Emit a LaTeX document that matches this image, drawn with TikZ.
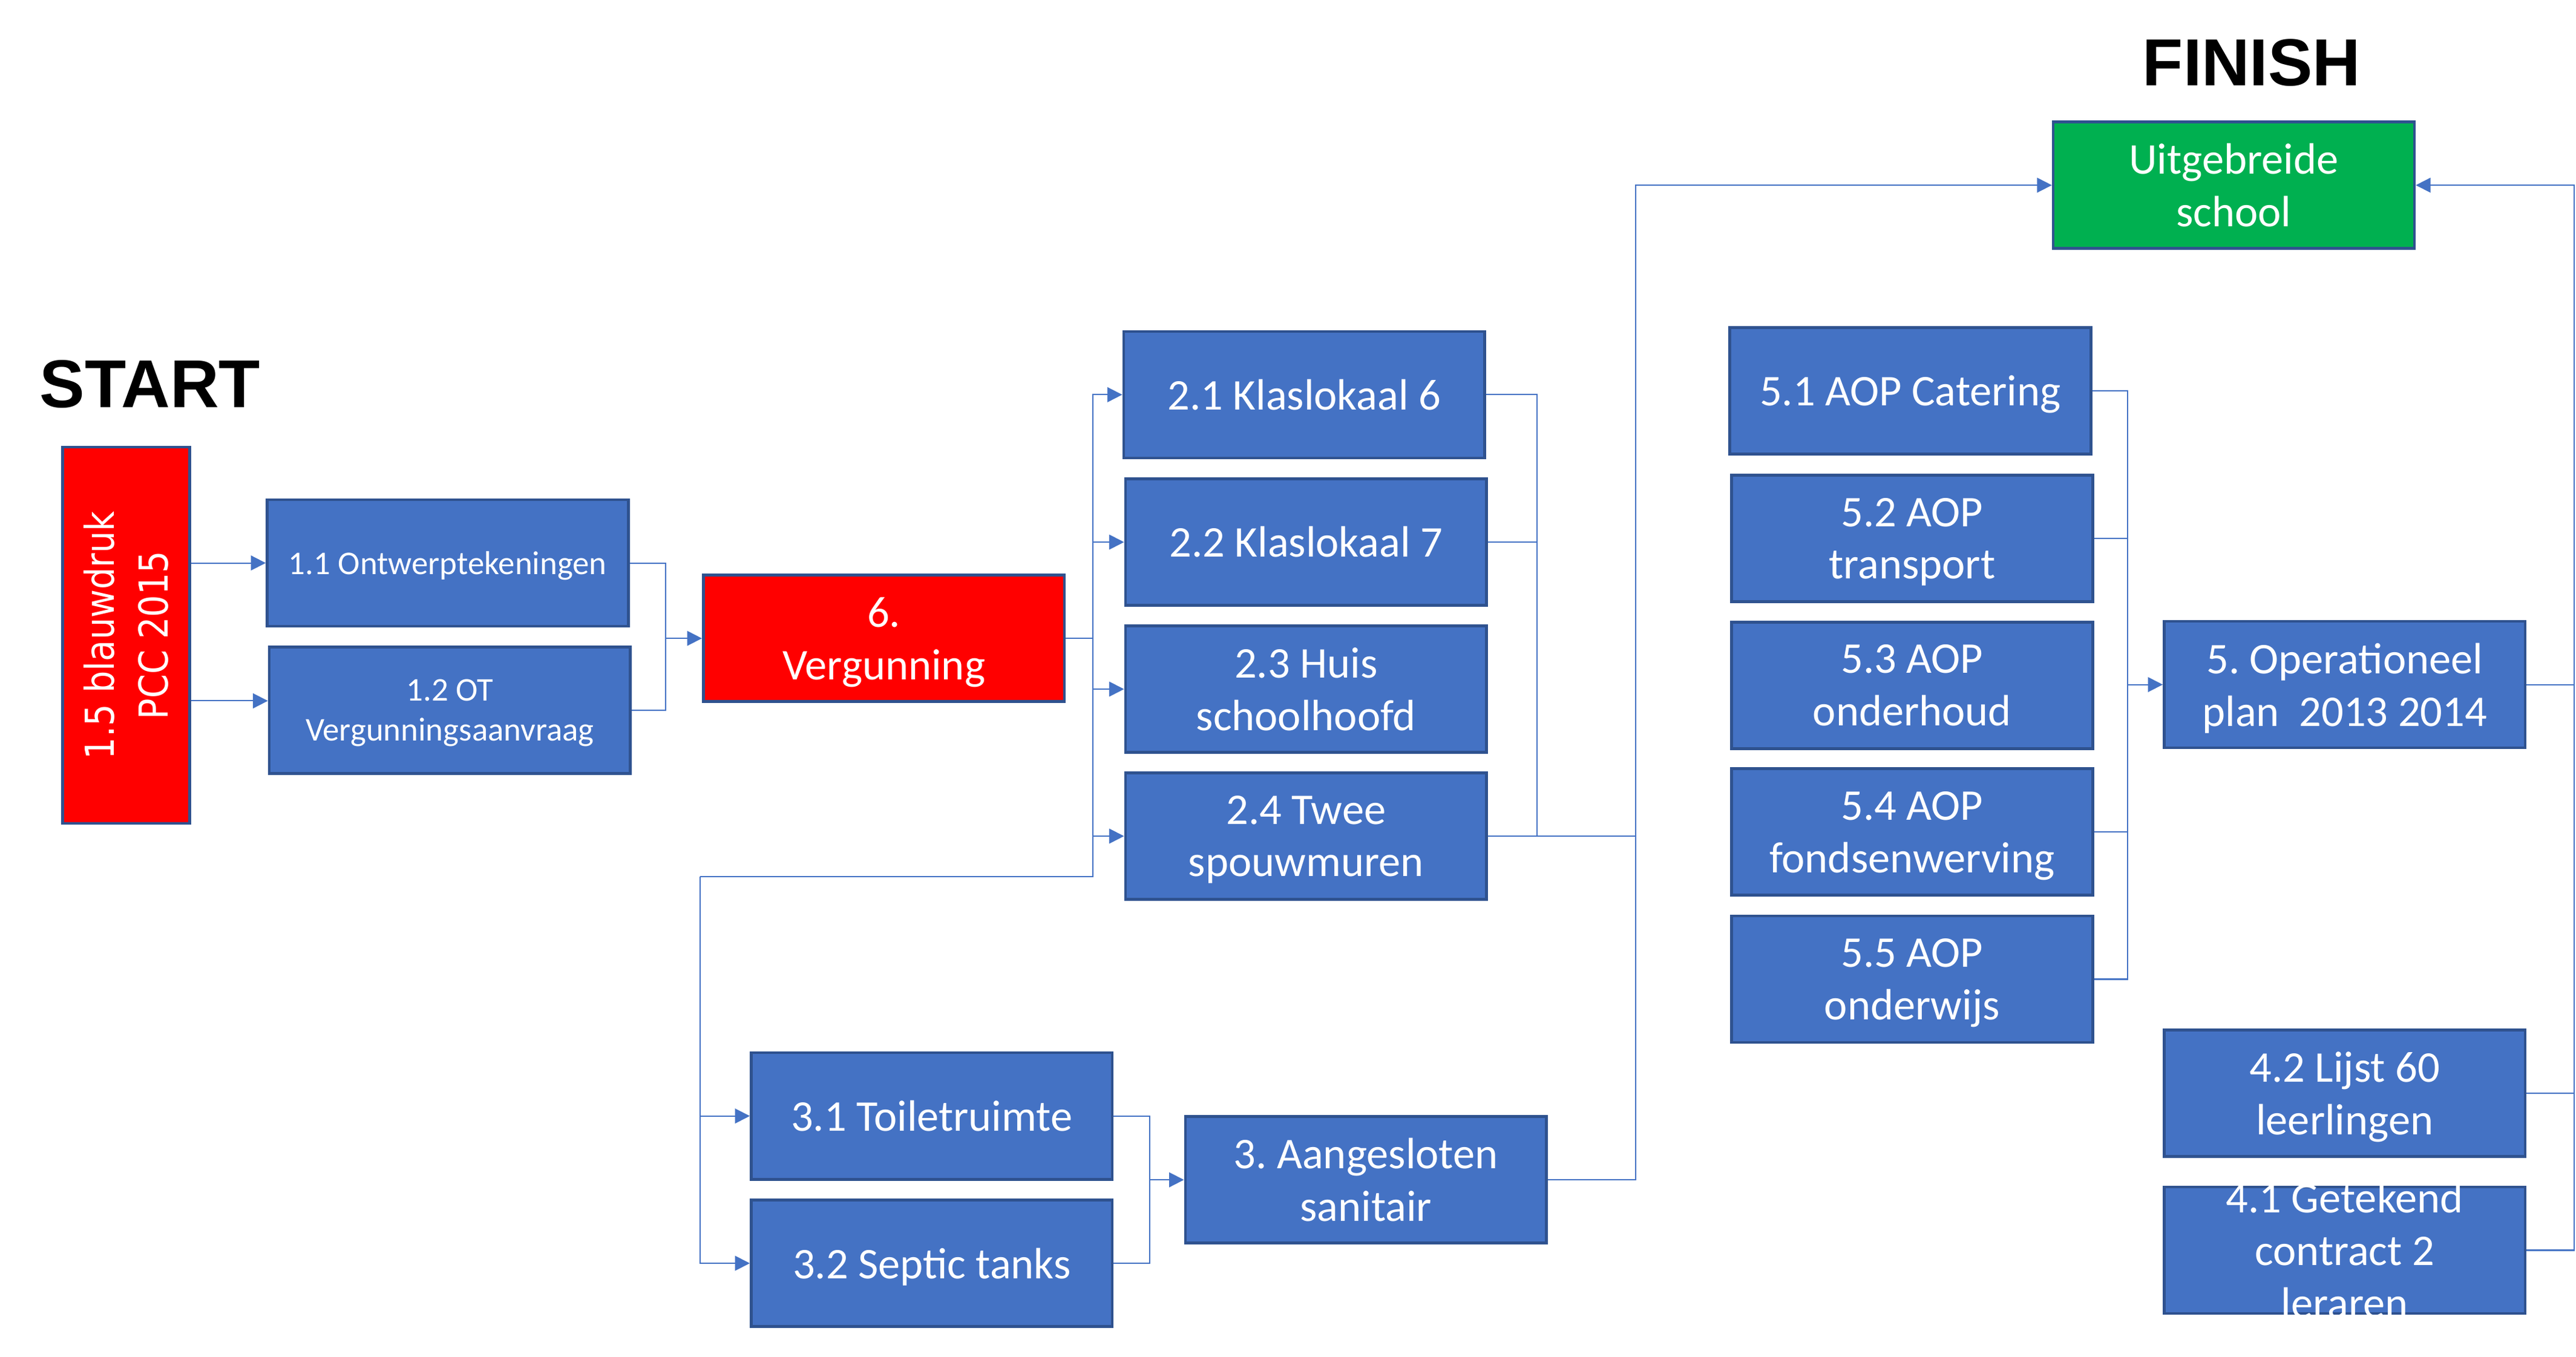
\documentclass[tikz,border=0pt]{standalone}
\usepackage{fontspec}
\setmainfont{Carlito}
\newfontfamily\redfont[FakeStretch=0.87]{DejaVu Sans}
\newfontfamily\headfont{Liberation Sans}
\usetikzlibrary{arrows.meta,calc}
\frenchspacing
\definecolor{boxc}{HTML}{4472C4}
\definecolor{bordc}{HTML}{2F528F}
\definecolor{linec}{HTML}{4472C4}
\definecolor{redc}{HTML}{FF0000}
\definecolor{greenc}{HTML}{00B050}
\newcommand\bigtxt{\fontsize{26.7pt}{32pt}\selectfont}
\newcommand\smalltxt{\fontsize{20.2pt}{24.5pt}\selectfont}
\newcommand\redtxt{\redfont\fontsize{24.3pt}{32.5pt}\selectfont}
\newcommand\headtxt{\headfont\bfseries\fontsize{40.5pt}{48pt}\selectfont}
\newcommand\nd[1]{\raisebox{0pt}[\height][0pt]{#1}}
\tikzset{
  box/.style={draw=bordc, line width=1.7pt, fill=boxc, text=white, inner sep=0pt,
    font=\bigtxt, align=center, minimum width=219.8pt, minimum height=77pt},
  smallbox/.style={box, font=\smalltxt},
  redbox/.style={box, fill=redc},
  greenbox/.style={box, fill=greenc},
  conn/.style={draw=linec, line width=0.75pt},
  arr/.style={conn, -{Triangle[length=9pt,width=9pt]}},
  head/.style={font=\headtxt, text=black, inner sep=0pt, anchor=base west},
}
\begin{document}
\begin{tikzpicture}[x=1pt,y=-1pt]
\fill[white] (0,0) rectangle (1568,826);
\useasboundingbox (0,0) rectangle (1568,826);

% titles
\node[head, font=\headfont\bfseries\fontsize{41.2pt}{48pt}\selectfont] (tstart) at (24,248) {START};
\node[head] (tfin) at (1304,52.3) {FINISH};

% boxes
\node[redbox, minimum width=77.4pt, minimum height=229.2pt] (b15) at (76.75,386.75) {};
\node[text=white, font=\redtxt, align=center, rotate=90, inner sep=0pt] (t15) at (b15) {1.5 blauwdruk\\PCC 2015};
\node[smallbox] (b11) at (272.5,342.75) {\nd{1.1 Ontwerptekeningen}};
\node[smallbox] (b12) at (273.8,432.4) {1.2 OT\\\nd{Vergunningsaanvraag}};
\node[redbox] (b6) at (538,388.65) {6.\\\nd{Vergunning}};
\node[box] (b21) at (793.85,240.3) {2.1 Klaslokaal 6};
\node[box] (b22) at (794.95,330.05) {2.2 Klaslokaal 7};
\node[box] (b23) at (794.95,419.55) {2.3 Huis\\schoolhoofd};
\node[box] (b24) at (794.95,509.05) {2.4 Twee\\\nd{spouwmuren}};
\node[box] (b31) at (567.15,679.45) {3.1 Toiletruimte};
\node[box] (b32) at (567.15,769.1) {\nd{3.2 Septic tanks}};
\node[box] (b3) at (831.4,718.3) {3. Aangesloten\\sanitair};
\node[greenbox] (bfin) at (1359.7,112.75) {Uitgebreide\\school};
\node[box] (b51) at (1162.8,237.95) {\nd{5.1 AOP Catering}};
\node[box] (b52) at (1163.9,327.8) {5.2 AOP\\\nd{transport}};
\node[box] (b53) at (1163.9,417.35) {5.3 AOP\\onderhoud};
\node[box] (b54) at (1163.9,506.5) {5.4 AOP\\\nd{fondsenwerving}};
\node[box] (b55) at (1163.9,596.15) {5.5 AOP\\\nd{onderwijs}};
\node[box] (b5) at (1427.2,416.8) {5. Operationeel\\\nd{plan\ \ 2013 2014}};
\node[box] (b42) at (1427.2,665.65) {4.2 Lijst 60\\\nd{leerlingen}};
\node[box] (b41) at (1427.2,761.15) {};
\begin{scope}
  \clip ($(b41.north west)+(-20,-40)$) rectangle ($(b41.south east)+(20,0)$);
  \node[text=white, font=\bigtxt, align=center, inner sep=0pt] (t41) at (b41) {4.1 Getekend\\contract 2\\leraren};
\end{scope}

% junction coordinates
\path (b6.west) ++(-22,0) coordinate (j1);
\path (b6.east) ++(16.6,0) coordinate (j2);
\path (j2) ++(0,145.15) coordinate (j2b);
\path (j2b) ++(-239.3,0) coordinate (j3);
\path (b3.west) ++(-20.8,0) coordinate (j4);
\path (b24.east) ++(29.9,0) coordinate (j5);
\path (j5) ++(60,0) coordinate (j6);
\path (b5.west) ++(-21.5,0) coordinate (j7);
\path (b5.east) ++(28.8,0) coordinate (j8);

% connectors: start
\draw[arr] (b15.east |- b11.west) -- (b11.west);
\draw[arr] ([yshift=5.7pt]b15.east |- b12.west) -- ([yshift=5.7pt]b12.west);
\draw[conn] (b11.east) -| (j1);
\draw[conn] (b12.east) -| (j1);
\draw[arr] (j1) -- (b6.west);

% vergunning bus
\draw[conn] (b6.east) -- (j2);
\draw[arr] (j2) |- (b21.west);
\draw[arr] (j2) |- (b22.west);
\draw[arr] (j2) |- (b23.west);
\draw[arr] (j2) |- (b24.west);
\draw[conn] (j2) -- (j2b) -- (j3);
\draw[arr] (j3) |- (b31.west);
\draw[arr] (j3) |- (b32.west);

% sanitair
\draw[conn] (b31.east) -| (j4);
\draw[conn] (b32.east) -| (j4);
\draw[arr] (j4) -- (b3.west);

% to finish
\draw[conn] (b21.east) -| (j5);
\draw[conn] (b22.east) -| (j5);
\draw[conn] (b24.east) -- (j5) -- (j6);
\draw[conn] (b3.east) -| (j6);
\draw[arr] (j6) |- (bfin.west);

% AOP bus
\draw[conn] (b51.east) -| (j7);
\draw[conn] (b52.east) -| (j7);
\draw[conn] (b54.east) -| (j7);
\draw[conn] (b55.east) -| (j7);
\draw[arr] (j7) -- (b5.west);

% right bus
\draw[conn] (b5.east) -- (j8);
\draw[conn] (b42.east) -| (j8);
\draw[conn] (b41.east) -| (j8);
\draw[arr] (j8) |- (bfin.east);
\end{tikzpicture}
\end{document}
